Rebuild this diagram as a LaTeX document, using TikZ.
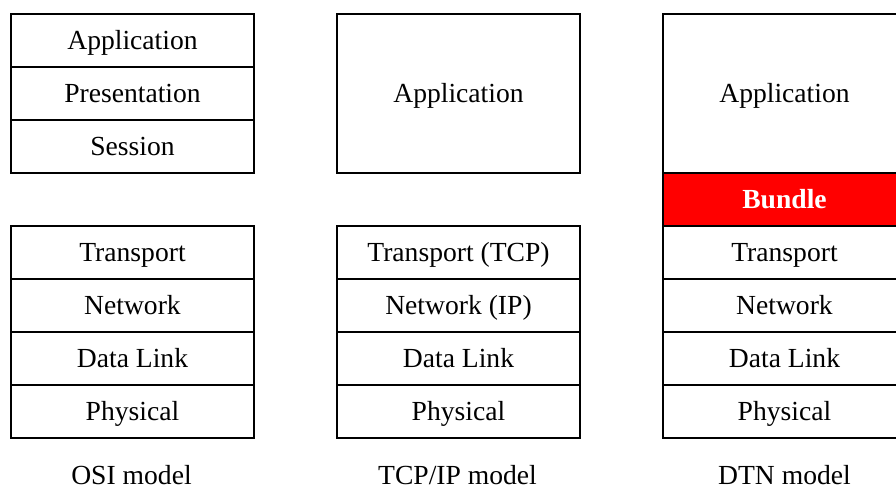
\documentclass[tikz,border=0pt]{standalone}
\usepackage{fontspec}
\setmainfont{Liberation Serif}
\begin{document}
\begin{tikzpicture}[x=0.5pt,y=-0.5pt,
  txt/.style={font=\fontsize{13.8}{16}\selectfont, text height=10.5pt, text depth=1.8pt},
  layer/.style={txt, draw=black, line width=1pt, fill=white, minimum width=121.5pt,
    minimum height=26.5pt, inner sep=0pt, anchor=north west},
  tall/.style={layer, minimum height=79.5pt},
  bundlebox/.style={layer, fill=red, text=white, font=\fontsize{13.8}{16}\selectfont\bfseries},
  caption/.style={txt, inner sep=0pt}]
\useasboundingbox (0,0) rectangle (896,488);
\clip (0,0) rectangle (896,488);
% OSI stack
\node[layer] (osiapp) at (10,13) {Application};
\node[layer] (osipres) at (10,66) {Presentation};
\node[layer] (osises) at (10,119) {Session};
\node[layer] (ositrans) at (10,225) {Transport};
\node[layer] (osinet) at (10,278) {Network};
\node[layer] (osidl) at (10,331) {Data Link};
\node[layer] (osiphy) at (10,384) {Physical};
\node[caption] (osicap) at (131.5,476) {OSI model};
% TCP/IP stack
\node[tall] (tcpapp) at (336,13) {Application};
\node[layer] (tcptrans) at (336,225) {Transport (TCP)};
\node[layer] (tcpnet) at (336,278) {Network (IP)};
\node[layer] (tcpdl) at (336,331) {Data Link};
\node[layer] (tcpphy) at (336,384) {Physical};
\node[caption] (tcpcap) at (457.5,476) {TCP/IP model};
% DTN stack
\node[tall] (dtnapp) at (662,13) {Application};
\node[bundlebox] (dtnbundle) at (662,172) {Bundle};
\node[layer] (dtntrans) at (662,225) {Transport};
\node[layer] (dtnnet) at (662,278) {Network};
\node[layer] (dtndl) at (662,331) {Data Link};
\node[layer] (dtnphy) at (662,384) {Physical};
\node[caption] (dtncap) at (784.5,476) {DTN model};
\end{tikzpicture}
\end{document}
